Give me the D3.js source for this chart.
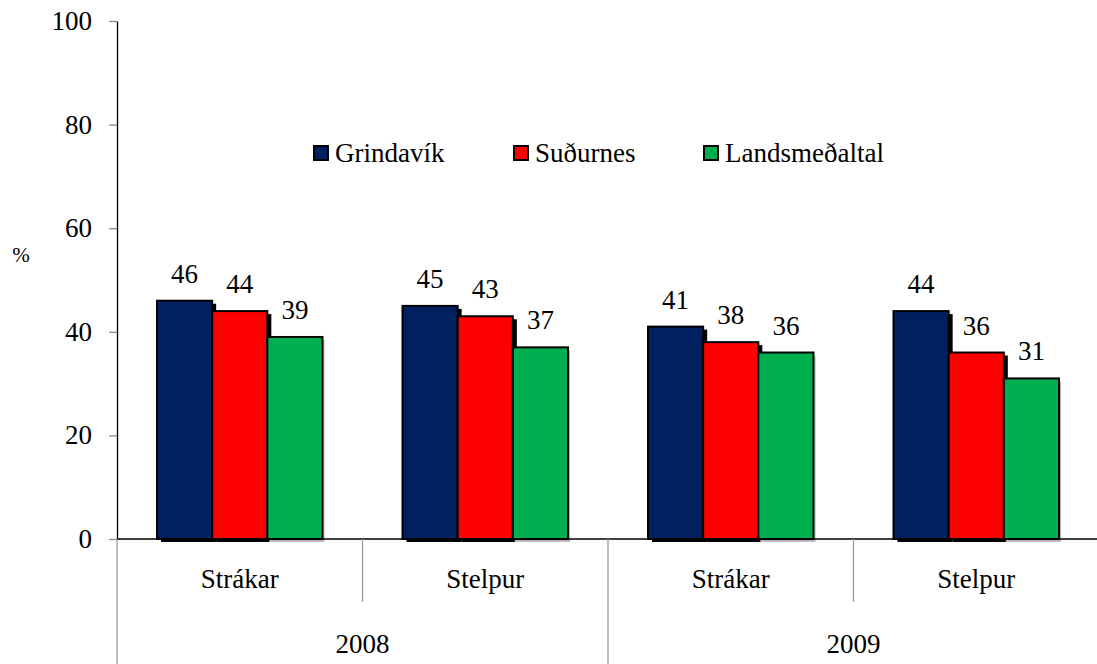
<!DOCTYPE html>
<html>
<head>
<meta charset="utf-8">
<script src="https://cdn.jsdelivr.net/npm/d3@7"></script>
<style>
  body { margin: 0; background: #fff; }
  svg text { font-family: "Times New Roman", "Liberation Serif", "DejaVu Serif", serif; }
</style>
</head>
<body>
<div id="wrapper"></div>
<script>
// Data
const years = ["2008", "2009"]
const groups = ["Strákar", "Stelpur", "Strákar", "Stelpur"]
const seriesNames = ["Grindavík", "Suðurnes", "Landsmeðaltal"]
const grindavik = [46, 45, 41, 44]
const sudurnes = [44, 43, 38, 36]
const landsmedaltal = [39, 37, 36, 31]
const yTicks = [0, 20, 40, 60, 80, 100]

const colors = ["#002060", "#ff0000", "#00b050"]
const shadowColors = ["#000", "#000", "#bbb"]

// chart dimensions
const dimensions = {
  width: 1097,
  height: 664,
  plotLeft: 117,
  plotRight: 1099,
  plotTop: 21,
  baseline: 539
}

const seriesValues = [grindavik, sudurnes, landsmedaltal]

const svg = d3.select("#wrapper").append("svg")
  .attr("width", dimensions.width)
  .attr("height", dimensions.height)

// scales
const yScale = d3.scaleLinear().domain([0, 100]).range([dimensions.baseline, dimensions.plotTop])
const xGroup = d3.scaleBand().domain(d3.range(groups.length))
  .range([dimensions.plotLeft, dimensions.plotRight]).padding(0)
const xSeries = d3.scaleBand().domain(d3.range(seriesNames.length))
  .range([0, xGroup.bandwidth()]).paddingInner(0).paddingOuter(0.725)
const xYear = d3.scaleBand().domain(years)
  .range([dimensions.plotLeft, dimensions.plotRight]).padding(0)

// y axis (labels drawn as plain text so they get the same styling as the rest)
const yAxis = svg.append("g")
  .attr("transform", `translate(${dimensions.plotLeft},0)`)
  .call(d3.axisLeft(yScale).tickValues(yTicks).tickSize(8).tickSizeOuter(0).tickFormat(""))
yAxis.select(".domain").attr("stroke", "#000").attr("stroke-width", 1.3)
yAxis.selectAll(".tick line").attr("stroke", "#888").attr("stroke-width", 1.3)
yAxis.selectAll(".tick text").remove()

svg.append("g").selectAll("text")
  .data(yTicks)
  .join("text")
  .attr("x", dimensions.plotLeft - 25)
  .attr("y", d => yScale(d))
  .attr("dy", "0.33em")
  .attr("text-anchor", "end")
  .style("font-size", "27px")
  .text(d => d)

svg.append("text")
  .attr("x", 21)
  .attr("y", 262)
  .attr("text-anchor", "middle")
  .style("font-size", "21px")
  .text("%")

// bars
const bars = []
groups.forEach((g, gi) => {
  seriesValues.forEach((vals, si) => {
    bars.push({ gi, si, value: vals[gi] })
  })
})

const barX = d => xGroup(d.gi) + xSeries(d.si)
const barH = d => dimensions.baseline - yScale(d.value)

// each shadow then its bar, so the next bar covers the neighbour's shadow
const barGroup = svg.append("g")
bars.forEach(d => {
  barGroup.append("rect")
    .attr("x", barX(d) + (d.si === 2 ? 2 : 4))
    .attr("y", yScale(d.value) + 3)
    .attr("width", xSeries.bandwidth())
    .attr("height", barH(d))
    .attr("fill", shadowColors[d.si])
  barGroup.append("rect")
    .attr("x", barX(d))
    .attr("y", yScale(d.value))
    .attr("width", xSeries.bandwidth())
    .attr("height", barH(d))
    .attr("fill", colors[d.si])
    .attr("stroke", "#000")
    .attr("stroke-width", 2)
})

// value labels
svg.append("g").selectAll("text")
  .data(bars)
  .join("text")
  .attr("x", d => barX(d) + xSeries.bandwidth() / 2)
  .attr("y", d => yScale(d.value) - 18)
  .attr("text-anchor", "middle")
  .style("font-size", "27px")
  .text(d => d.value)

// x axis line
svg.append("line")
  .attr("x1", dimensions.plotLeft).attr("x2", dimensions.width)
  .attr("y1", dimensions.baseline).attr("y2", dimensions.baseline)
  .attr("stroke", "#000").attr("stroke-width", 1.3)

// category separators
const sepColor = "#999"
svg.append("g").selectAll("line")
  .data(d3.range(groups.length).filter(i => i % 2 === 1))
  .join("line")
  .attr("x1", i => xGroup(i)).attr("x2", i => xGroup(i))
  .attr("y1", dimensions.baseline).attr("y2", 602)
  .attr("stroke", sepColor).attr("stroke-width", 1.3)

svg.append("g").selectAll("line")
  .data(years)
  .join("line")
  .attr("x1", y => xYear(y)).attr("x2", y => xYear(y))
  .attr("y1", dimensions.baseline).attr("y2", dimensions.height)
  .attr("stroke", sepColor).attr("stroke-width", 1.3)

svg.append("g").selectAll("text")
  .data(groups)
  .join("text")
  .attr("x", (g, i) => xGroup(i) + xGroup.bandwidth() / 2)
  .attr("y", 588)
  .attr("text-anchor", "middle")
  .style("font-size", "27px")
  .text(g => g)

svg.append("g").selectAll("text")
  .data(years)
  .join("text")
  .attr("x", y => xYear(y) + xYear.bandwidth() / 2)
  .attr("y", 653)
  .attr("text-anchor", "middle")
  .style("font-size", "27px")
  .text(y => y)

// legend
const legendX = [313, 513, 703]
svg.append("g").selectAll("rect")
  .data(seriesNames)
  .join("rect")
  .attr("x", (d, i) => legendX[i] + 1)
  .attr("y", 146)
  .attr("width", 14).attr("height", 14)
  .attr("fill", (d, i) => colors[i])
  .attr("stroke", "#000")
  .attr("stroke-width", 2)

svg.append("g").selectAll("text")
  .data(seriesNames)
  .join("text")
  .attr("x", (d, i) => legendX[i] + 22)
  .attr("y", 162)
  .style("font-size", "27px")
  .text(d => d)
</script>
</body>
</html>
